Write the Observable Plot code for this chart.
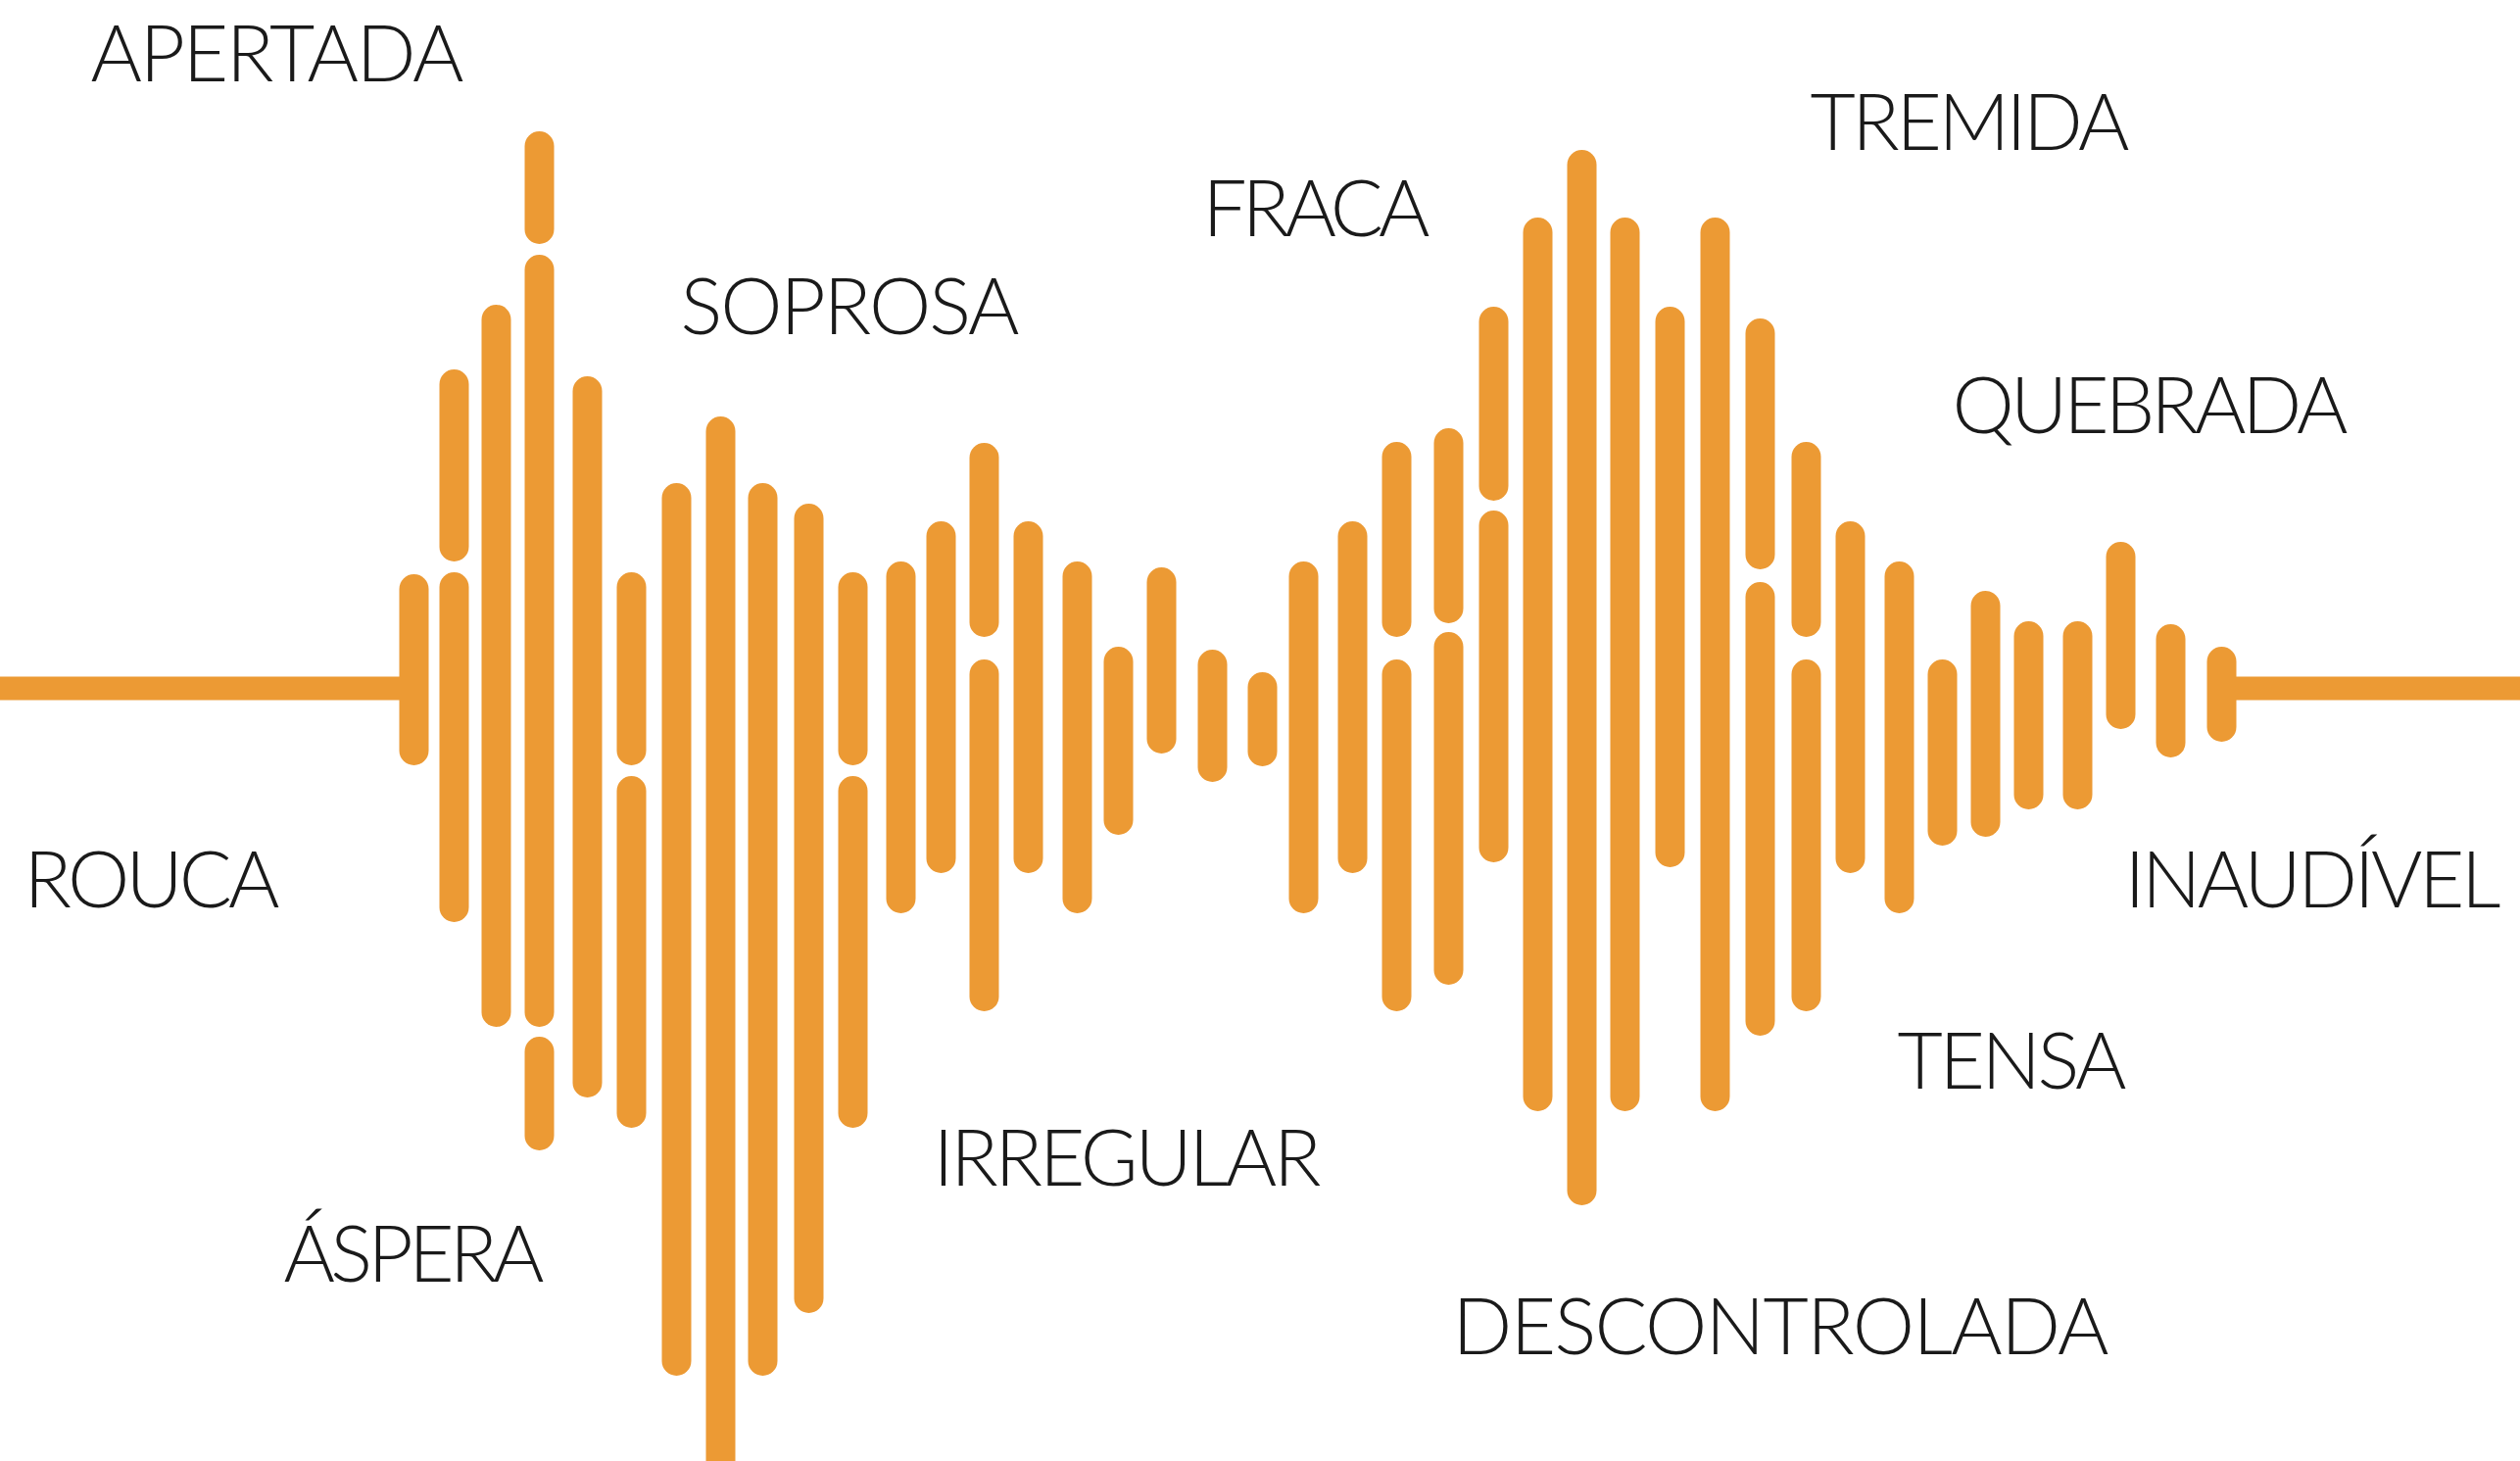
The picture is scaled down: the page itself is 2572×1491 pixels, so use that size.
<!DOCTYPE html>
<html>
<head>
<meta charset="utf-8">
<script src="https://cdn.jsdelivr.net/npm/d3@7"></script>
<script src="https://cdn.jsdelivr.net/npm/@observablehq/plot@0.6"></script>
<style>
  html, body { margin: 0; padding: 0; background: #ffffff; overflow: hidden; }
  #chart svg { display: block; }
</style>
</head>
<body>
<div id="chart"></div>
<script>
// ---- bar positions along the waveform (horizontal) ----
const positions = [422, 463, 506, 550, 599, 644, 690, 735, 778, 825, 870,
  919, 960, 1004, 1049, 1099, 1141, 1185, 1237, 1288, 1330,
  1380, 1425, 1478, 1524, 1569, 1614, 1658, 1704, 1750, 1796,
  1843, 1888, 1938, 1982, 2026, 2070, 2120, 2164, 2215, 2267];

// ---- segments of each bar: [top, bottom] amplitudes relative to the baseline ----
const segments = [
  [[116, -79]],
  [[325, 129], [118, -239]],
  [[391, -346]],
  [[568, 453], [442, -346], [-356, -472]],
  [[318, -418]],
  [[118, -79], [-90, -449]],
  [[209, -702]],
  [[277, -830]],
  [[209, -702]],
  [[188, -638]],
  [[118, -79], [-90, -449]],
  [[129, -230]],
  [[170, -189]],
  [[250, 52], [29, -330]],
  [[170, -189]],
  [[129, -230]],
  [[42, -150]],
  [[123, -67]],
  [[39, -96]],
  [[16, -80]],
  [[129, -230]],
  [[170, -189]],
  [[251, 52], [29, -330]],
  [[265, 66], [57, -303]],
  [[389, 191], [181, -178]],
  [[480, -432]],
  [[549, -528]],
  [[480, -432]],
  [[389, -183]],
  [[480, -432]],
  [[377, 121], [108, -355]],
  [[251, 52], [29, -330]],
  [[170, -189]],
  [[129, -230]],
  [[29, -161]],
  [[99, -152]],
  [[68, -124]],
  [[68, -124]],
  [[149, -42]],
  [[65, -71]],
  [[42, -55]]
];

// ---- labels ----
const labels = ["APERTADA", "SOPROSA", "FRACA", "TREMIDA", "QUEBRADA", "ROUCA",
  "INAUDÍVEL", "TENSA", "IRREGULAR", "ÁSPERA", "DESCONTROLADA"];
const labelX = [92, 694, 1227, 1847, 1992, 24, 2168, 1936, 952, 289, 1482];
const labelY = [645, 387, 487, 575, 286, -198, -198, -383, -482, -580, -654];
const labelW = [381, 346, 232, 326, 404, 261, 384, 234, 396, 266, 670];

// ---- build tables ----
const bars = [];
segments.forEach((segs, i) => segs.forEach(([top, bottom]) => bars.push({x: positions[i], top, bottom})));
const baseline = [
  {x1: 0, x2: positions[0]},
  {x1: positions[positions.length - 1], x2: 2572}
];
const labelRows = labels.map((t, i) => ({text: t, x: labelX[i], y: labelY[i], w: labelW[i]}));

const W = 2572, H = 1491;
const orange = "#EC9A34";

const svg = Plot.plot({
  width: W,
  height: H,
  margin: 0,
  x: {domain: [0, W], range: [0, W], axis: null},
  y: {domain: [-789, 702], range: [H, 0], axis: null},
  style: {background: "#ffffff", overflow: "hidden"},
  marks: [
    Plot.ruleY(baseline, {y: 0, x1: "x1", x2: "x2", stroke: orange, strokeWidth: 24}),
    Plot.ruleX(bars, {x: "x", y1: "top", y2: "bottom", stroke: orange, strokeWidth: 30,
      strokeLinecap: "round", insetTop: 15, insetBottom: 15}),
    Plot.text(labelRows, {x: "x", y: "y", text: "text", textAnchor: "start", lineAnchor: "middle",
      fontSize: 80, fontFamily: "Lato", fontWeight: 300, fill: "#1a1a1a"})
  ]
});

// stretch each label's tracking to its measured width in the picture
d3.select(svg).selectAll("g[aria-label='text'] text").each(function(i) {
  const row = labelRows[i];
  if (row) {
    this.setAttribute("textLength", row.w);
    this.setAttribute("lengthAdjust", "spacing");
  }
});

document.getElementById("chart").appendChild(svg);
</script>
</body>
</html>
